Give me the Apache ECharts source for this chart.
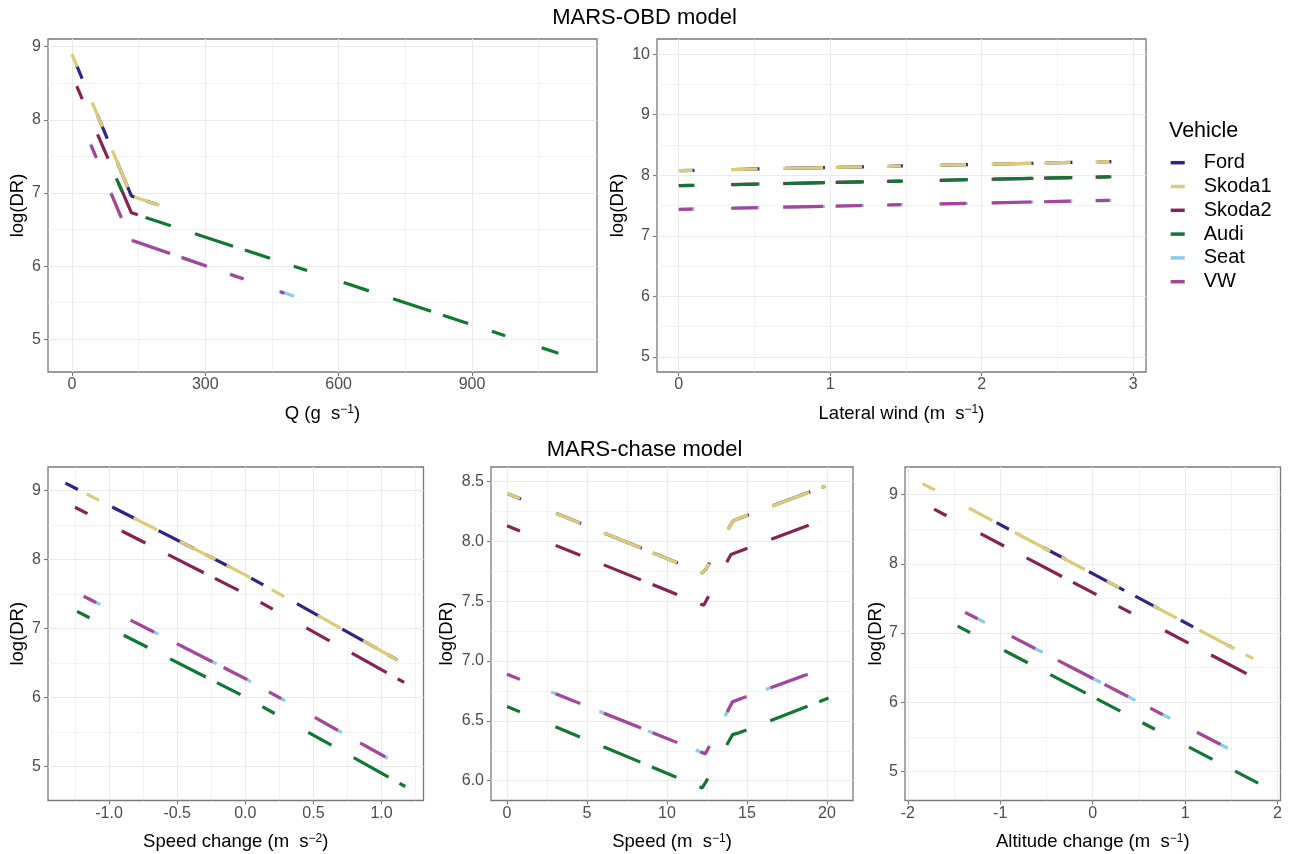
<!DOCTYPE html>
<html><head><meta charset="utf-8">
<script src="https://cdn.jsdelivr.net/npm/echarts@6/dist/echarts.min.js"></script>
<style>html,body{margin:0;padding:0;background:#fff}#c{width:1289px;height:854px}</style>
</head><body><div id="c"></div>
<script>
// ---------- data ----------
const vehicles = ['Ford', 'Skoda1', 'Skoda2', 'Audi', 'Seat', 'VW'];
const vehicleColors = ['#332288', '#DDCC77', '#882255', '#117733', '#88CCEE', '#AA4499'];

// Panel: Q (MARS-OBD)
const qTicks = [0, 300, 600, 900];
const qMinorTicks = [150, 450, 750, 1050];
const qLogTicks = [5, 6, 7, 8, 9];
const qLogMinor = [5.5, 6.5, 7.5, 8.5];
const qFord   = [[11, 8.74], [134, 6.96], [190, 6.846]];
const qSkoda1 = [[0, 8.90], [134, 6.96], [242, 6.74]];
const qSkoda2 = [[11, 8.46], [134, 6.73], [170, 6.66]];
const qAudi   = [[100, 7.20], [134, 6.73], [1094, 4.81]];
const qSeat   = [[42, 7.67], [132, 6.36], [500, 5.59]];
const qVW     = [[43, 7.655], [132, 6.36], [478, 5.63]];

// Panel: Lateral wind (MARS-OBD)
const windTicks = [0, 1, 2, 3];
const windMinorTicks = [0.5, 1.5, 2.5];
const windLogTicks = [5, 6, 7, 8, 9, 10];
const windLogMinor = [5.5, 6.5, 7.5, 8.5, 9.5];
const windFord   = [[0.012, 8.077], [2.94, 8.23]];
const windSkoda1 = [[0, 8.076], [2.94, 8.23]];
const windSkoda2 = [[0, 7.828], [2.94, 7.98]];
const windAudi   = [[0.012, 7.829], [2.94, 7.98]];
const windSeat   = [[0.012, 7.439], [2.94, 7.59]];
const windVW     = [[0, 7.438], [2.94, 7.59]];

// Panel: Speed change (MARS-chase)
const accTicks = [-1, -0.5, 0, 0.5, 1];
const accMinorTicks = [-1.25, -0.75, -0.25, 0.25, 0.75, 1.25];
const accLogTicks = [5, 6, 7, 8, 9];
const accLogMinor = [5.5, 6.5, 7.5, 8.5];
const accFord   = [[-1.32, 9.11], [0, 7.78], [1.112, 6.55]];
const accSkoda1 = [[-1.164, 8.953], [0, 7.78], [1.18, 6.475]];
const accSkoda2 = [[-1.25, 8.76], [0, 7.505], [1.166, 6.22]];
const accAudi   = [[-1.235, 7.25], [0, 6.007], [1.174, 4.71]];
const accSeat   = [[-1.156, 7.44], [0, 6.275], [1.045, 5.12]];
const accVW     = [[-1.186, 7.47], [0, 6.275], [1.027, 5.14]];

// Panel: Speed (MARS-chase)
const spdTicks = [0, 5, 10, 15, 20];
const spdMinorTicks = [2.5, 7.5, 12.5, 17.5];
const spdLogTicks = [6, 6.5, 7, 7.5, 8, 8.5];
const spdLogMinor = [6.25, 6.75, 7.25, 7.75, 8.25];
const spdFord   = [[0.06, 8.397], [12.2, 7.735], [12.45, 7.77], [14.1, 8.165], [14.3, 8.18], [19.9, 8.46]];
const spdSkoda1 = [[0, 8.40], [12.2, 7.735], [12.45, 7.77], [14.1, 8.165], [14.3, 8.18], [19.9, 8.46]];
const spdSkoda2 = [[0, 8.13], [12.3, 7.465], [14.0, 7.89], [19.6, 8.17]];
const spdAudi   = [[0, 6.62], [12.2, 5.94], [12.45, 5.995], [14.1, 6.385], [14.5, 6.40], [20.1, 6.69]];
const spdSeat   = [[0, 6.89], [12.1, 6.24], [12.4, 6.225], [14.1, 6.66], [19.17, 6.908]];
const spdVW     = [[0, 6.89], [12.1, 6.24], [12.4, 6.225], [14.1, 6.66], [18.8, 6.89]];

// Panel: Altitude change (MARS-chase)
const altTicks = [-2, -1, 0, 1, 2];
const altMinorTicks = [-1.5, -0.5, 0.5, 1.5];
const altLogTicks = [5, 6, 7, 8, 9];
const altLogMinor = [5.5, 6.5, 7.5, 8.5];
const altFord   = [[-1.04, 8.595], [1.5, 6.798]];
const altSkoda1 = [[-1.84, 9.16], [1.737, 6.63]];
const altSkoda2 = [[-1.715, 8.79], [1.755, 6.35]];
const altAudi   = [[-1.46, 7.10], [1.79, 4.83]];
const altSeat   = [[-1.30, 7.245], [1.68, 5.185]];
const altVW     = [[-1.38, 7.30], [1.6, 5.24]];

// ---------- style / layout ----------
const FONT = '"Liberation Sans", Arial, Helvetica, sans-serif';
const DASH = [14, 38.5, 26.5, 25.5, 40, 12.5, 26.5, 25];
const BORDER = '#7a7a7a';
const GRIDC = '#ebebeb';
const fmtInt = v => String(v);
const fmt1 = v => v.toFixed(1);
const supRich = { sup: { fontSize: 12, verticalAlign: 'top', fontFamily: FONT, color: '#000' } };

const panels = [
  { grid: { left: 48, top: 39, width: 549, height: 333 },
    x: { min: -53.6, max: 1181, major: qTicks, minor: qMinorTicks, fmt: fmtInt, name: 'Q (g  s{sup|−1})' },
    y: { min: 4.553, max: 9.105, major: qLogTicks, minor: qLogMinor, fmt: fmtInt, gap: 21 },
    lines: [qFord, qSkoda1, qSkoda2, qAudi, qSeat, qVW], offsets: [0, 0, 0, 0, 0, 0] },
  { grid: { left: 657, top: 39, width: 489, height: 333 },
    x: { min: -0.143, max: 3.085, major: windTicks, minor: windMinorTicks, fmt: fmtInt, name: 'Lateral wind (m  s{sup|−1})' },
    y: { min: 4.752, max: 10.25, major: windLogTicks, minor: windLogMinor, fmt: fmtInt, gap: 29.5 },
    lines: [windFord, windSkoda1, windSkoda2, windAudi, windSeat, windVW], offsets: [0, 0, 0, 0, 0, 0] },
  { grid: { left: 48, top: 467, width: 375.5, height: 333.5 },
    x: { min: -1.448, max: 1.308, major: accTicks, minor: accMinorTicks, fmt: fmt1, name: 'Speed change (m  s{sup|−2})' },
    y: { min: 4.507, max: 9.344, major: accLogTicks, minor: accLogMinor, fmt: fmtInt, gap: 21 },
    lines: [accFord, accSkoda1, accSkoda2, accAudi, accSeat, accVW], offsets: [0, 0, 0, 0, 0, 0] },
  { grid: { left: 491, top: 467, width: 362, height: 333.5 },
    x: { min: -1.0, max: 21.63, major: spdTicks, minor: spdMinorTicks, fmt: fmtInt, name: 'Speed (m  s{sup|−1})' },
    y: { min: 5.835, max: 8.62, major: spdLogTicks, minor: spdLogMinor, fmt: fmt1, gap: 34.5 },
    lines: [spdFord, spdSkoda1, spdSkoda2, spdAudi, spdSeat, spdVW], offsets: [0, 0, 0, 0, 5, 0] },
  { grid: { left: 905, top: 467, width: 375.5, height: 333.5 },
    x: { min: -2.03, max: 2.032, major: altTicks, minor: altMinorTicks, fmt: fmtInt, name: 'Altitude change (m  s{sup|−1})' },
    y: { min: 4.58, max: 9.40, major: altLogTicks, minor: altLogMinor, fmt: fmtInt, gap: 20 },
    lines: [altFord, altSkoda1, altSkoda2, altAudi, altSeat, altVW], offsets: [0, 0, 0, 0, 0, 0] }
];

const grids = [], xAxes = [], yAxes = [], series = [];
panels.forEach((p, i) => {
  grids.push(Object.assign({ show: true, borderColor: BORDER, borderWidth: 1.3, backgroundColor: 'transparent', containLabel: false }, p.grid));
  xAxes.push({
    type: 'value', gridIndex: i, min: p.x.min, max: p.x.max, position: 'bottom',
    axisLine: { show: false, onZero: false },
    axisTick: { show: true, length: 4, customValues: p.x.major, lineStyle: { color: BORDER, width: 1.1 } },
    axisLabel: { customValues: p.x.major, formatter: p.x.fmt, color: '#4d4d4d', fontSize: 16, margin: 5, fontFamily: FONT },
    splitLine: { show: true, lineStyle: { color: GRIDC, width: 1.1 } },
    name: p.x.name, nameLocation: 'middle', nameGap: 32,
    nameTextStyle: { fontSize: 18.5, color: '#000', fontFamily: FONT, rich: supRich }
  });
  xAxes.push({
    type: 'value', gridIndex: i, min: p.x.min, max: p.x.max, position: 'top',
    axisLine: { show: false, onZero: false },
    axisTick: { show: false, customValues: p.x.minor },
    axisLabel: { show: false, customValues: p.x.minor },
    splitLine: { show: true, lineStyle: { color: GRIDC, width: 0.6 } }
  });
  yAxes.push({
    type: 'value', gridIndex: i, min: p.y.min, max: p.y.max, position: 'left',
    axisLine: { show: false, onZero: false },
    axisTick: { show: true, length: 4, customValues: p.y.major, lineStyle: { color: BORDER, width: 1.1 } },
    axisLabel: { customValues: p.y.major, formatter: p.y.fmt, color: '#4d4d4d', fontSize: 16, margin: 7, fontFamily: FONT },
    splitLine: { show: true, lineStyle: { color: GRIDC, width: 1.1 } },
    name: 'log(DR)', nameLocation: 'middle', nameRotate: 90, nameGap: p.y.gap,
    nameTextStyle: { fontSize: 18.5, color: '#000', fontFamily: FONT }
  });
  yAxes.push({
    type: 'value', gridIndex: i, min: p.y.min, max: p.y.max, position: 'right',
    axisLine: { show: false, onZero: false },
    axisTick: { show: false, customValues: p.y.minor },
    axisLabel: { show: false, customValues: p.y.minor },
    splitLine: { show: true, lineStyle: { color: GRIDC, width: 0.6 } }
  });
  p.lines.forEach((pts, k) => {
    series.push({
      type: 'line', name: vehicles[k], xAxisIndex: 2 * i, yAxisIndex: 2 * i, data: pts,
      symbol: 'none', showSymbol: false, silent: true, animation: false,
      color: vehicleColors[k], itemStyle: { color: vehicleColors[k] },
      lineStyle: { color: vehicleColors[k], width: 3.2, type: DASH, dashOffset: p.offsets[k], cap: 'butt' },
      emphasis: { disabled: true }, z: 2
    });
  });
});

const option = {
  animation: false,
  backgroundColor: '#ffffff',
  textStyle: { fontFamily: FONT },
  title: [
    { text: 'MARS-OBD model', left: 'center', top: 7, padding: 0,
      textStyle: { fontSize: 22, fontWeight: 'normal', color: '#000', fontFamily: FONT, lineHeight: 22 } },
    { text: 'MARS-chase model', left: 'center', top: 439, padding: 0,
      textStyle: { fontSize: 22, fontWeight: 'normal', color: '#000', fontFamily: FONT, lineHeight: 22 } },
    { text: 'Vehicle', left: 1169, top: 120, padding: 0,
      textStyle: { fontSize: 21.5, fontWeight: 'normal', color: '#000', fontFamily: FONT, lineHeight: 22 } }
  ],
  legend: {
    data: vehicles, orient: 'vertical', left: 1170.7, top: 152.7, padding: 0, itemGap: 3.8,
    itemWidth: 14, itemHeight: 3.5, icon: 'rect', selectedMode: false,
    textStyle: { fontSize: 20, color: '#000', fontFamily: FONT, lineHeight: 20, padding: [0, 0, 0, 14] }
  },
  grid: grids, xAxis: xAxes, yAxis: yAxes, series: series
};

const chart = echarts.init(document.getElementById('c'), null, { renderer: 'canvas' });
chart.setOption(option);
</script></body></html>
